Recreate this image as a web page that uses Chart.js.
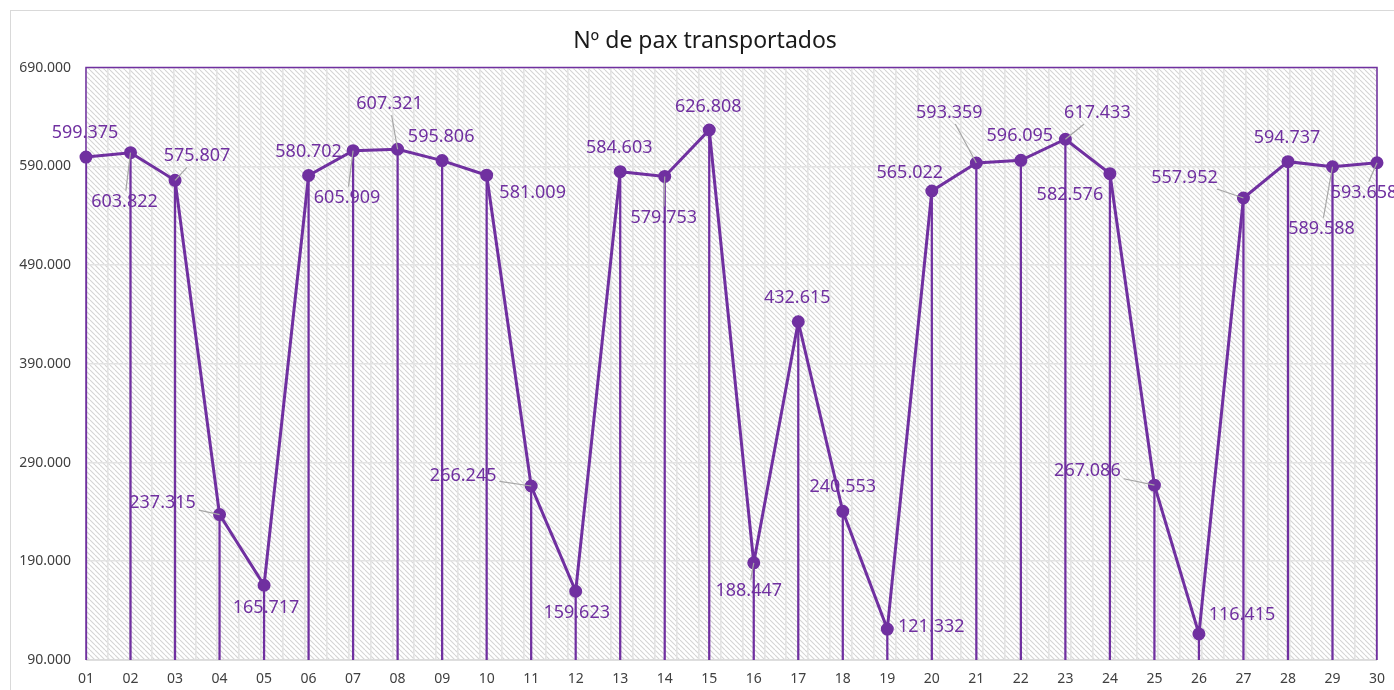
<!DOCTYPE html>
<html><head><meta charset="utf-8">
<script src="https://cdn.jsdelivr.net/npm/chart.js@4.4.1/dist/chart.umd.min.js"></script>
<style>
html,body{margin:0;padding:0;background:#fff;overflow:hidden;width:1394px;height:690px;}
#frame{position:absolute;left:10px;top:10px;width:1500px;height:800px;border:1px solid #d9d9d9;box-sizing:border-box;z-index:2;pointer-events:none;}
#wrap{position:absolute;left:0;top:0;width:1410px;height:690px;z-index:1;}
</style></head><body>
<div id="frame"></div>
<div id="wrap"><canvas id="c" width="1410" height="690"></canvas></div>
<script>
// ---- data ----
const chartTitle = 'Nº de pax transportados';
const categories = ['01','02','03','04','05','06','07','08','09','10','11','12','13','14','15','16','17','18','19','20','21','22','23','24','25','26','27','28','29','30'];
const paxValues = [599375,603822,575807,237315,165717,580702,605909,607321,595806,581009,266245,159623,584603,579753,626808,188447,432615,240553,121332,565022,593359,596095,617433,582576,267086,116415,557952,594737,589588,593658];
const yMin = 90000, yMax = 690000, yStep = 100000;

// ---- label placement (pixels relative to point) ----
const labelOffsets = [[-1,-24],[-6,49],[22,-24],[-57,-12],[2,23],[0,-24],[-6,47],[-8,-45],[-1,-24],[46,18],
  [-68,-10],[1,22],[-1,-24],[-1,41],[-1,-23],[-5,28],[-1,-24],[0,-24],[44,-2],[-22,-18],
  [-27,-50],[-1,-24],[32,-26],[-40,21],[-67,-14],[43,-19],[-59,-20],[-1,-24],[-11,62],[-13,30]];
const leaderFlags = [0,1,1,1,0,0,1,1,0,0, 1,0,0,1,0,1,0,0,0,0, 1,0,1,0,1,0,1,0,1,1];

const PURPLE = '#7030A0';
const FONT = '"Noto Sans", "DejaVu Sans", sans-serif';

function fmt(v){ return Math.round(v).toString().replace(/\B(?=(\d{3})+(?!\d))/g,'.'); }

function makePattern(ctx){
  const s = 5;
  const pc = document.createElement('canvas'); pc.width = s; pc.height = s;
  const p = pc.getContext('2d');
  p.fillStyle = '#ffffff'; p.fillRect(0,0,s,s);
  p.strokeStyle = '#d4d4d4'; p.lineWidth = 1.1;
  for (const k of [-s,0,s]) { p.beginPath(); p.moveTo(k,0); p.lineTo(k+s,s); p.stroke(); }
  return ctx.createPattern(pc,'repeat');
}

const bgPlugin = {
  id:'bgPlugin',
  beforeDraw(chart){
    const {ctx, chartArea:a} = chart;
    ctx.save();
    ctx.fillStyle = makePattern(ctx);
    ctx.fillRect(a.left,a.top,a.right-a.left,a.bottom-a.top);
    ctx.restore();
  },
  beforeDatasetsDraw(chart){
    const {ctx, chartArea:a} = chart;
    ctx.save();
    ctx.strokeStyle = '#d9d9d9'; ctx.lineWidth = 1.5;
    ctx.beginPath(); ctx.moveTo(a.left,a.bottom); ctx.lineTo(a.right,a.bottom); ctx.stroke();
    ctx.strokeStyle = PURPLE; ctx.lineWidth = 1.5;
    ctx.beginPath(); ctx.moveTo(a.left,a.bottom); ctx.lineTo(a.left,a.top); ctx.lineTo(a.right,a.top); ctx.lineTo(a.right,a.bottom); ctx.stroke();
    ctx.restore();
  }
};

const labelPlugin = {
  id:'labelPlugin',
  afterDatasetsDraw(chart){
    const meta = chart.getDatasetMeta(1);
    const ctx = chart.ctx;
    ctx.save();
    ctx.font = '18px ' + FONT;
    ctx.textAlign = 'center'; ctx.textBaseline = 'middle';
    meta.data.forEach((pt, i) => {
      const txt = fmt(paxValues[i]);
      const [dx,dy] = labelOffsets[i];
      const cx = pt.x + dx, cy = pt.y + dy;
      if (leaderFlags[i]) {
        const hw = ctx.measureText(txt).width/2 + 3, hh = 11;
        const vx = pt.x - cx, vy = pt.y - cy;
        const t = Math.min(vx ? hw/Math.abs(vx) : 1e9, vy ? hh/Math.abs(vy) : 1e9);
        if (t < 1) {
          ctx.strokeStyle = '#a6a6a6'; ctx.lineWidth = 1.2;
          ctx.beginPath(); ctx.moveTo(cx + vx*t, cy + vy*t); ctx.lineTo(pt.x, pt.y); ctx.stroke();
        }
      }
      ctx.fillStyle = PURPLE;
      ctx.fillText(txt, cx, cy);
    });
    ctx.restore();
  }
};

const yTickValues = [];
for (let v = yMin; v <= yMax; v += yStep) yTickValues.push(v);

new Chart(document.getElementById('c'), {
  type:'bar',
  data:{
    labels: categories,
    datasets:[
      { type:'bar', data: paxValues, backgroundColor: PURPLE, barThickness: 1.6, order: 2, xAxisID:'x', yAxisID:'y' },
      { type:'line', data: paxValues, borderColor: PURPLE, backgroundColor: PURPLE, borderWidth: 3,
        pointRadius: 5, pointHoverRadius: 5, pointBackgroundColor: PURPLE, pointBorderColor: PURPLE,
        tension: 0, order: 1, xAxisID:'x', yAxisID:'y', clip: false }
    ]
  },
  options:{
    responsive:false, animation:false, devicePixelRatio:1,
    layout:{ padding:0 },
    plugins:{
      legend:{ display:false }, tooltip:{ enabled:false },
      title:{ display:true, text: chartTitle, color:'#1a1a1a', font:{ family: FONT, size:23, weight:'normal' }, padding:{ top:28, bottom:12 } }
    },
    scales:{
      x:{ type:'category', offset:false, position:'bottom',
        grid:{ display:false, drawTicks:false }, border:{ display:false },
        ticks:{ color:'#404040', font:{ family: FONT, size:14 }, padding:11, autoSkip:false, maxRotation:0 },
        afterFit(s){ s.height = 30; s.paddingRight = 33; } },
      xg:{ type:'linear', position:'bottom', min:0, max: categories.length-1,
        ticks:{ display:false, stepSize:0.5, maxTicksLimit:200 },
        grid:{ color:'#e3e3e3', lineWidth:1.6, drawTicks:false }, border:{ display:false },
        afterFit(s){ s.height = 0; } },
      y:{ min:yMin, max:yMax,
        afterBuildTicks(s){ s.ticks = yTickValues.map(v => ({value:v})); },
        ticks:{ color:'#404040', font:{ family: FONT, size:14 }, padding:15, callback: v => fmt(v) },
        grid:{ color:'#e3e3e3', lineWidth:1.6, drawTicks:false }, border:{ display:false },
        afterFit(s){ s.width = 86; } }
    }
  },
  plugins:[bgPlugin, labelPlugin]
});
</script>
</body></html>
